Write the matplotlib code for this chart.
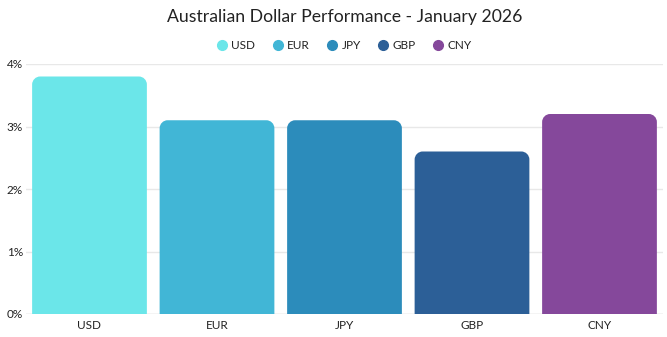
import matplotlib
matplotlib.use("Agg")
import matplotlib.pyplot as plt
from matplotlib.path import Path
from matplotlib.patches import PathPatch
from matplotlib.lines import Line2D

plt.rcParams['font.family'] = ['Lato', 'DejaVu Sans']

currencies = ["USD", "EUR", "JPY", "GBP", "CNY"]
performance = [3.8, 3.1, 3.1, 2.6, 3.2]
colors = ["#6be6e9", "#41b6d6", "#2c8cbb", "#2c5f97", "#85489b"]
yticks = [0, 1, 2, 3, 4]
title = "Australian Dollar Performance - January 2026"

W, H = 667, 337
fig = plt.figure(figsize=(W / 100, H / 100), dpi=100)
ax_left, ax_right = 25.75, 663.25
ax_top, ax_bottom = 64, 314
ax = fig.add_axes([ax_left / W, (H - ax_bottom) / H,
                   (ax_right - ax_left) / W, (ax_bottom - ax_top) / H])
center_x = (ax_left + ax_right) / 2 / W

n = len(currencies)
ax.set_xlim(-0.5, n - 0.5)
ax.set_ylim(0, 4)

# pixel-per-unit scales used to build rounded tops
px_x = (ax_right - ax_left) / n
px_y = (ax_bottom - ax_top) / 4
radius_px = 8
rx, ry = radius_px / px_x, radius_px / px_y
bar_w = 0.9
k = 0.5523


def rounded_top(x0, x1, h):
    verts = [
        (x0, 0), (x0, h - ry),
        (x0, h - ry + k * ry), (x0 + rx - k * rx, h), (x0 + rx, h),
        (x1 - rx, h),
        (x1 - rx + k * rx, h), (x1, h - ry + k * ry), (x1, h - ry),
        (x1, 0), (x0, 0),
    ]
    codes = [Path.MOVETO, Path.LINETO,
             Path.CURVE4, Path.CURVE4, Path.CURVE4,
             Path.LINETO,
             Path.CURVE4, Path.CURVE4, Path.CURVE4,
             Path.LINETO, Path.CLOSEPOLY]
    return Path(verts, codes)


for i, (val, col) in enumerate(zip(performance, colors)):
    patch = PathPatch(rounded_top(i - bar_w / 2, i + bar_w / 2, val),
                      facecolor=col, edgecolor="none", zorder=3)
    ax.add_patch(patch)

ax.set_yticks(yticks)
ax.set_yticklabels([f"{t}%" for t in yticks])
ax.set_xticks(range(n))
ax.set_xticklabels(currencies)
ax.grid(axis="y", color="#e8e8e8", linewidth=1, zorder=0)
ax.set_axisbelow(True)
for s in ax.spines.values():
    s.set_visible(False)
ax.axhline(0, color="#e0e0e0", linewidth=1, zorder=1)
ax.tick_params(axis="both", length=0, labelsize=8.5, labelcolor="#222222")
ax.tick_params(axis="y", pad=2)
ax.tick_params(axis="x", pad=4)

fig.text(center_x, 1 - 17 / H, title, ha="center", va="center",
         fontsize=12.7, color="#222222")

handles = [Line2D([], [], marker="o", linestyle="none", markersize=7,
                  markerfacecolor=c, markeredgecolor=c) for c in colors]
fig.legend(handles, currencies, loc="center",
           bbox_to_anchor=(center_x, 1 - 45.5 / H),
           ncol=n, frameon=False, fontsize=8.5, handletextpad=0.4,
           columnspacing=1.5, handlelength=0.8, labelcolor="#222222")

fig.savefig("out.png", dpi=100)
